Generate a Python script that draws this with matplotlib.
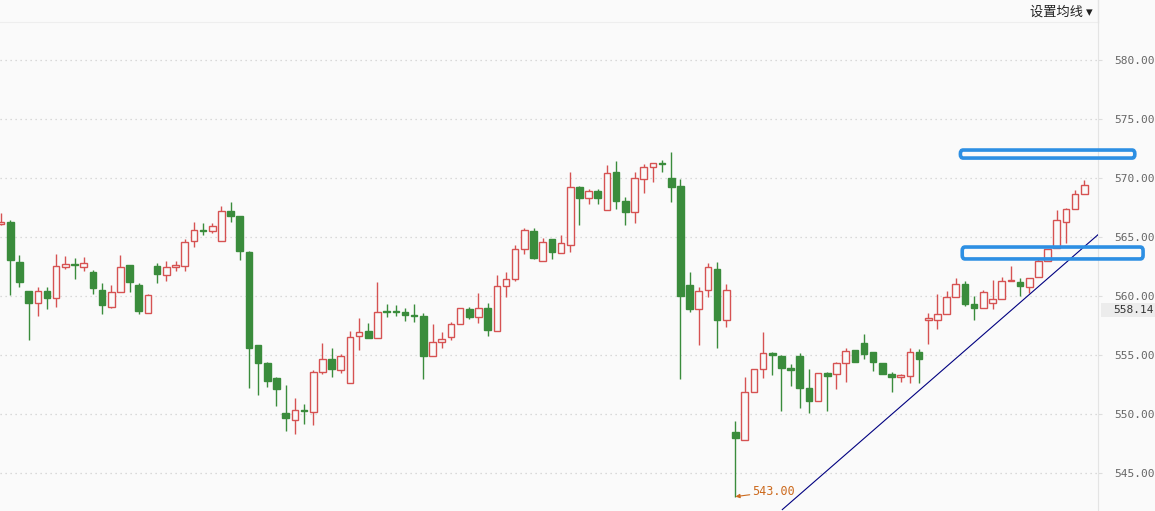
#!/usr/bin/env python3
"""Daily candlestick chart with trend line and two marked price zones."""

import matplotlib

matplotlib.use("Agg")
import matplotlib.pyplot as plt
import matplotlib.transforms as mtransforms
from matplotlib.patches import FancyBboxPatch, Rectangle

# candle data, one entry per trading day (oldest first)
opens = [
    566.1, 566.28, 562.9, 560.4, 559.4, 560.4, 559.8, 562.5, 562.7, 562.5,
    562.07, 560.47, 559.06, 560.36, 562.6, 560.97, 558.6, 562.55, 561.76, 562.43,
    562.55, 564.63, 565.6, 565.5, 564.66, 567.21, 566.79, 563.75, 555.83, 554.32,
    553.05, 550.1, 549.49, 550.35, 550.16, 553.59, 554.63, 553.7, 552.6, 556.65,
    557.0, 556.42, 558.73, 558.7, 558.64, 558.38, 558.3, 554.89, 556.07, 556.5,
    557.63, 558.87, 558.19, 558.95, 557.0, 560.82, 561.41, 563.95, 565.54, 562.94,
    564.83, 563.67, 564.29, 569.21, 568.28, 568.87, 567.26, 570.48, 568.02, 567.09,
    569.89, 570.9, 571.26, 569.97, 569.32, 560.9, 558.87, 560.48, 562.29, 557.94,
    548.48, 547.77, 551.84, 553.79, 555.15, 554.95, 553.87, 554.92, 552.18, 551.11,
    553.45, 553.37, 554.3, 555.4, 555.99, 555.23, 554.3, 553.37, 553.17, 553.25,
    555.23, 557.94, 557.96, 558.45, 559.89, 561.02, 559.32, 558.99, 559.38, 559.72,
    561.25, 561.16, 560.74, 561.64, 562.94, 564.1, 566.3, 567.35, 568.62,
]
highs = [
    567.0, 566.45, 563.5, 560.4, 560.8, 560.8, 563.6, 563.4, 563.2, 563.3,
    562.24, 561.1, 560.9, 563.5, 562.6, 561.06, 560.2, 562.83, 563.0, 563.0,
    564.85, 566.28, 566.2, 566.2, 567.6, 567.97, 566.79, 563.84, 555.83, 554.4,
    553.14, 552.46, 551.37, 550.86, 553.73, 556.0, 555.6, 555.07, 557.07, 558.11,
    557.69, 561.2, 559.3, 559.24, 558.96, 559.32, 558.53, 557.63, 556.92, 557.8,
    558.95, 559.04, 560.22, 559.38, 561.78, 562.03, 564.29, 565.73, 565.73, 564.92,
    564.83, 565.17, 570.51, 569.32, 569.07, 569.07, 571.1, 571.41, 568.36, 570.48,
    571.19, 571.24, 571.52, 572.17, 569.89, 562.0, 560.76, 562.77, 562.88, 560.99,
    549.41, 553.17, 553.79, 556.95, 555.26, 555.03, 554.24, 555.15, 553.85, 553.45,
    553.53, 554.41, 555.6, 555.4, 556.78, 555.23, 554.3, 553.53, 553.36, 555.57,
    555.51, 558.53, 560.17, 560.45, 561.56, 561.27, 560.0, 560.51, 561.36, 561.64,
    562.54, 561.53, 561.5, 563.17, 563.98, 567.26, 567.49, 568.99, 569.83,
]
lows = [
    566.0, 560.05, 560.8, 556.3, 558.3, 558.9, 559.1, 562.3, 561.4, 562.1,
    560.2, 558.5, 559.0, 560.35, 560.3, 558.5, 558.6, 561.09, 561.3, 562.1,
    562.1, 564.12, 565.13, 565.33, 564.66, 566.23, 563.02, 552.2, 551.65, 552.32,
    550.64, 548.6, 548.28, 549.12, 549.04, 553.42, 553.17, 553.5, 552.6, 555.44,
    556.45, 556.42, 558.2, 558.33, 557.91, 557.82, 552.94, 554.89, 555.57, 556.3,
    557.63, 558.08, 557.68, 556.64, 557.0, 559.89, 561.24, 563.53, 563.16, 562.94,
    563.1, 563.62, 563.76, 566.02, 567.82, 567.82, 567.26, 567.4, 566.04, 566.21,
    568.76, 569.69, 570.54, 567.99, 552.99, 558.64, 555.87, 559.94, 555.62, 557.34,
    543.0, 547.77, 551.84, 553.08, 553.28, 550.29, 552.35, 550.54, 550.06, 551.11,
    550.29, 552.15, 552.74, 554.44, 554.64, 553.68, 553.39, 551.84, 552.69, 552.6,
    552.6, 555.91, 557.18, 558.45, 559.89, 559.15, 557.99, 558.99, 558.87, 559.72,
    561.25, 560.03, 560.28, 561.64, 562.94, 564.1, 564.52, 567.35, 568.62,
]
closes = [
    566.3, 563.02, 561.2, 559.4, 560.4, 559.8, 562.55, 562.7, 562.6, 562.8,
    560.67, 559.23, 560.38, 562.46, 561.2, 558.73, 560.05, 561.85, 562.46, 562.6,
    564.57, 565.58, 565.55, 565.92, 567.18, 566.82, 563.78, 555.6, 554.35, 552.83,
    552.15, 549.63, 550.33, 550.25, 553.56, 554.63, 553.84, 554.88, 556.56, 556.98,
    556.45, 558.65, 558.68, 558.67, 558.42, 558.33, 554.94, 556.07, 556.38, 557.63,
    558.95, 558.19, 558.95, 557.09, 560.85, 561.41, 563.95, 565.59, 563.25, 564.55,
    563.7, 564.46, 569.21, 568.33, 568.87, 568.33, 570.4, 568.08, 567.15, 569.97,
    570.9, 571.24, 571.2, 569.27, 560.03, 558.93, 560.4, 562.43, 557.99, 560.54,
    548.0, 551.87, 553.79, 555.15, 554.98, 553.93, 553.7, 552.24, 551.13, 553.45,
    553.2, 554.3, 555.37, 554.44, 555.12, 554.44, 553.39, 553.17, 553.28, 555.28,
    554.69, 558.17, 558.45, 559.89, 560.99, 559.35, 559.01, 560.31, 559.72, 561.25,
    561.36, 560.88, 561.5, 562.97, 563.98, 566.47, 567.35, 568.62, 569.44,
]

yticks = [545, 550, 555, 560, 565, 570, 575, 580]
last_price = 558.14
low_mark = (80, 543.00)
trend_x = [85.1, 119.5]
trend_y = [541.9, 565.2]
# marked zones: (start index, end index, bottom price, top price)
zones = [(104.5, 123.5, 571.69, 572.37), (104.7, 124.4, 563.14, 564.15)]

UP = "#d65252"
DOWN = "#3a8c3c"
BG = "#fafafa"


def draw_candles(ax):
    for i, (o, h, l, c) in enumerate(zip(opens, highs, lows, closes)):
        color = UP if c >= o else DOWN
        ax.vlines(i, l, h, color=color, linewidth=1.0, zorder=2)
        bottom = min(o, c)
        height = max(abs(c - o), 0.06)
        face = BG if c >= o else DOWN
        ax.add_patch(Rectangle((i - 0.36, bottom), 0.72, height, facecolor=face,
                               edgecolor=color, linewidth=1.0, zorder=3))


def main():
    plt.rcParams["font.family"] = ["Noto Sans CJK SC", "DejaVu Sans"]
    fig = plt.figure(figsize=(11.55, 5.11), dpi=100, facecolor=BG)
    ax = fig.add_axes([0, 0, 1098 / 1155, 489 / 511])
    ax.set_facecolor(BG)

    draw_candles(ax)

    ax.set_xlim(-0.12, 119.49)
    ax.set_ylim(541.78, 583.22)

    ax.yaxis.tick_right()
    ax.set_yticks(yticks)
    ax.set_yticklabels([f"{v:.2f}" for v in yticks], family="DejaVu Sans Mono",
                       fontsize=8, color="#666666")
    ax.tick_params(axis="y", length=3, color="#dddddd", pad=9)
    ax.set_xticks([])
    ax.grid(axis="y", color="#cfcfcf", linestyle=(0, (1, 3)), linewidth=0.9)
    for side in ("left", "bottom"):
        ax.spines[side].set_visible(False)
    ax.spines["right"].set_color("#e4e4e4")
    ax.spines["top"].set_color("#eeeeee")

    # top strip above the plot
    fig.add_artist(plt.Line2D([1098 / 1155] * 2, [489 / 511, 1], color="#e4e4e4",
                              linewidth=1.0))
    fig.text(1030 / 1155, 1 - 12 / 511, "设置均线 \u25be", fontsize=9.5,
             color="#222222", ha="left", va="center",
             family=["Noto Sans CJK SC", "DejaVu Sans"])

    ax.plot(trend_x, trend_y, color="#000080", linewidth=0.8, zorder=4)

    for x0, x1, y0, y1 in zones:
        ax.add_patch(FancyBboxPatch((x0, y0), x1 - x0, y1 - y0,
                                    boxstyle="round,pad=0,rounding_size=0.3",
                                    facecolor="none", edgecolor="#2d8fe3",
                                    linewidth=2.6, zorder=5, clip_on=False))

    ax.annotate(f"{low_mark[1]:.2f}", xy=low_mark, xytext=(17, 5),
                textcoords="offset pixels", fontsize=8.5, color="#cc6a1e",
                family="DejaVu Sans Mono", va="center",
                arrowprops=dict(arrowstyle="-|>", color="#cc6a1e", lw=0.8,
                                mutation_scale=6, shrinkA=0, shrinkB=0))

    trans = mtransforms.blended_transform_factory(ax.transAxes, ax.transData)
    ax.add_patch(Rectangle((1101 / 1098, last_price + 0.06), 54 / 1098, 1.2,
                           transform=trans, facecolor="#ececec", edgecolor="none",
                           clip_on=False, zorder=1))
    ax.text(1113 / 1098, last_price + 0.66, f"{last_price:.2f}", transform=trans,
            fontsize=8, family="DejaVu Sans Mono", color="#333333",
            ha="left", va="center")

    fig.savefig("out.png", dpi=100, facecolor=BG)
    plt.close(fig)


if __name__ == "__main__":
    main()
